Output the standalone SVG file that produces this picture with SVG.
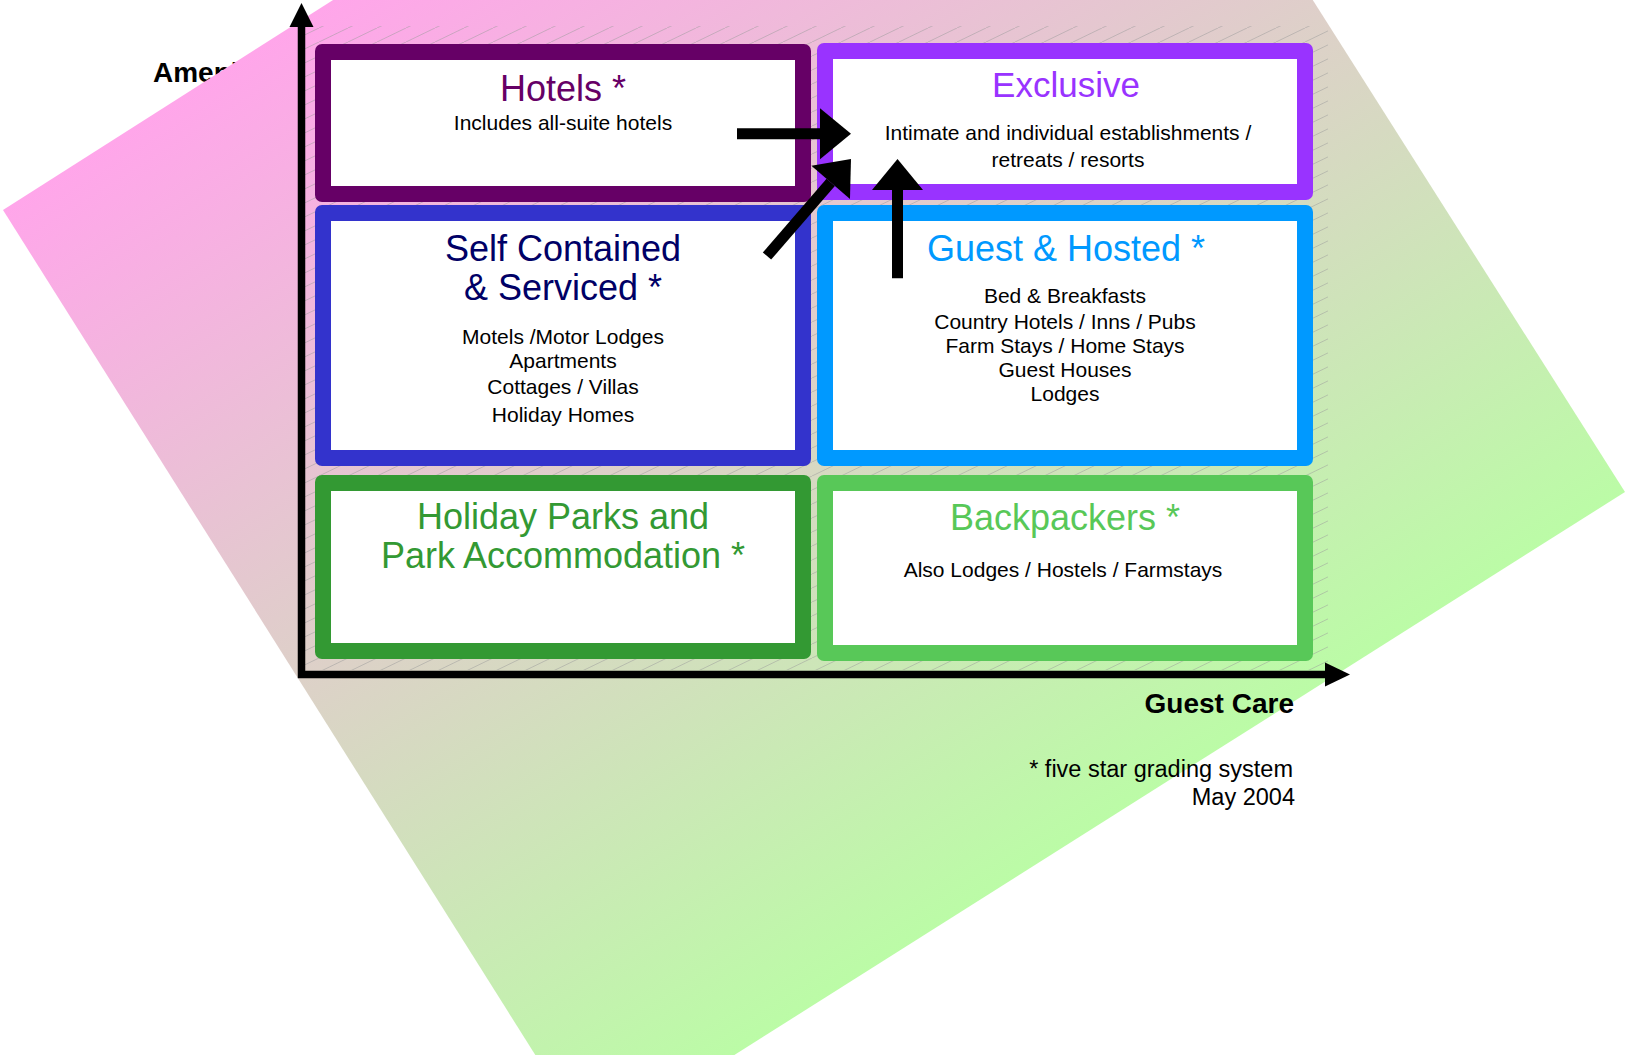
<svg xmlns="http://www.w3.org/2000/svg" width="1627" height="1055" viewBox="0 0 1627 1055">
  <style>
    .t { font-family: "Liberation Sans", Arial, sans-serif; text-anchor: middle; }
    .title { font-size: 36px; }
    .body { font-size: 21px; fill: #000000; }
    .axis { font-family: "Liberation Sans", Arial, sans-serif; font-weight: bold; font-size: 28px; fill: #000000; }
    .note { font-family: "Liberation Sans", Arial, sans-serif; font-size: 23.5px; fill: #000000; text-anchor: end; }
    .inner { fill: #ffffff; }
    .conn { stroke: #000000; stroke-width: 11; fill: none; marker-end: url(#head); }
  </style>
  <defs>
    <linearGradient id="bg" gradientUnits="userSpaceOnUse" x1="3" y1="210" x2="598" y2="1150">
      <stop offset="0" stop-color="#FFA6EA"/>
      <stop offset="1" stop-color="#BBFCA6"/>
    </linearGradient>
    <pattern id="hatch" patternUnits="userSpaceOnUse" x="0" y="0" width="29" height="14">
      <line x1="0" y1="14" x2="29" y2="0" stroke="#9a9a9a" stroke-width="0.5"/>
    </pattern>
    <marker id="head" markerUnits="userSpaceOnUse" viewBox="0 -26 32 52" markerWidth="32" markerHeight="52" refX="0" refY="0" orient="auto" overflow="visible">
      <path d="M0,-25.5 L31,0 L0,25.5 Z" fill="#000000"/>
    </marker>
  </defs>

  <!-- axis label partly covered by background -->
  <text class="axis" x="153" y="82">Amenities</text>

  <!-- background tilted gradient sheet -->
  <polygon points="3,210 1031,-444 1625,492 592,1145" fill="url(#bg)"/>

  <!-- hatched shadow area -->
  <rect x="305" y="26" width="1023" height="644" fill="url(#hatch)"/>

  <!-- axes -->
  <g id="axes">
    <path d="M301.5,26 L301.5,674.5 L1326,674.5" stroke="#000000" stroke-width="7.5" fill="none" stroke-linejoin="miter"/>
    <polygon points="301.5,3 289.5,27 313.5,27" fill="#000000"/>
    <polygon points="1350,674.5 1325,662.5 1325,686.5" fill="#000000"/>
  </g>

  <g id="hotels">
    <rect x="315" y="44" width="496" height="158" rx="7" fill="#660066"/>
    <rect class="inner" x="331" y="60" width="464" height="126"/>
    <text class="t title" x="563" y="100.7" fill="#660066">Hotels *</text>
    <text class="t body" x="563" y="130">Includes all-suite hotels</text>
  </g>

  <g id="exclusive">
    <rect x="817" y="43" width="496" height="157" rx="7" fill="#9933FF"/>
    <rect class="inner" x="833" y="59" width="464" height="125"/>
    <text class="t" x="1066" y="96.7" fill="#9933FF" font-size="35">Exclusive</text>
    <text class="t body" x="1068" y="140">Intimate and individual establishments /</text>
    <text class="t body" x="1068" y="167.3">retreats / resorts</text>
  </g>

  <g id="self-contained">
    <rect x="315" y="205" width="496" height="261" rx="7" fill="#3333CC"/>
    <rect class="inner" x="331" y="221" width="464" height="229"/>
    <text class="t title" x="563" y="260.7" fill="#000066">Self Contained</text>
    <text class="t title" x="563" y="300" fill="#000066">&amp; Serviced *</text>
    <text class="t body" x="563" y="344.3">Motels /Motor Lodges</text>
    <text class="t body" x="563" y="368.3">Apartments</text>
    <text class="t body" x="563" y="394.3">Cottages / Villas</text>
    <text class="t body" x="563" y="422.3">Holiday Homes</text>
  </g>

  <g id="guest-hosted">
    <rect x="817" y="205" width="496" height="261" rx="7" fill="#0099FF"/>
    <rect class="inner" x="833" y="221" width="464" height="229"/>
    <text class="t title" x="1066" y="260.7" fill="#0099FF">Guest &amp; Hosted *</text>
    <text class="t body" x="1065" y="303.3">Bed &amp; Breakfasts</text>
    <text class="t body" x="1065" y="329">Country Hotels / Inns / Pubs</text>
    <text class="t body" x="1065" y="353.3">Farm Stays / Home Stays</text>
    <text class="t body" x="1065" y="377.3">Guest Houses</text>
    <text class="t body" x="1065" y="400.7">Lodges</text>
  </g>

  <g id="holiday-parks">
    <rect x="315" y="475" width="496" height="184" rx="7" fill="#339933"/>
    <rect class="inner" x="331" y="491" width="464" height="152"/>
    <text class="t title" x="563" y="529" fill="#339933">Holiday Parks and</text>
    <text class="t title" x="563" y="568.3" fill="#339933">Park Accommodation *</text>
  </g>

  <g id="backpackers">
    <rect x="817" y="475" width="496" height="186" rx="7" fill="#58C858"/>
    <rect class="inner" x="833" y="491" width="464" height="154"/>
    <text class="t title" x="1065" y="530" fill="#58C858">Backpackers *</text>
    <text class="t body" x="1063" y="576.7">Also Lodges / Hostels / Farmstays</text>
  </g>

  <g id="connectors">
    <line class="conn" x1="737" y1="133.7" x2="820" y2="133.7"/>
    <line class="conn" x1="897.5" y1="278.3" x2="897.5" y2="190"/>
    <line class="conn" x1="767" y1="256" x2="830.7" y2="182.4"/>
  </g>

  <text class="axis" x="1294" y="712.7" text-anchor="end">Guest Care</text>
  <text class="note" x="1293" y="776.7">* five star grading system</text>
  <text class="note" x="1295" y="805">May 2004</text>
</svg>
